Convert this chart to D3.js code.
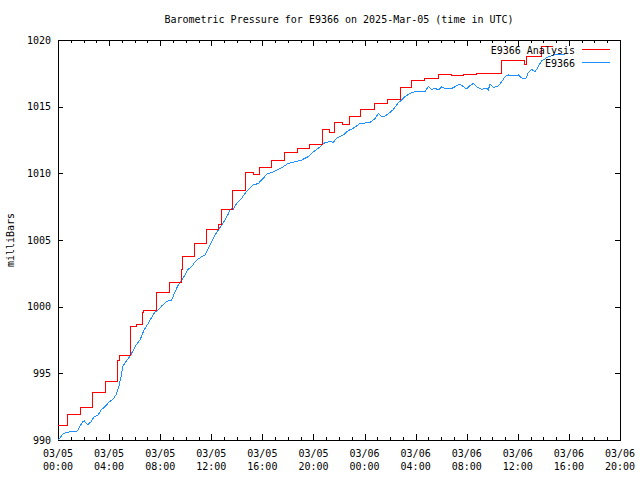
<!DOCTYPE html>
<html>
<head>
<meta charset="utf-8">
<script src="https://cdn.jsdelivr.net/npm/d3@7/dist/d3.min.js"></script>
<style>
  html, body { margin: 0; padding: 0; background: #fff; }
  svg { display: block; }
  text { font-family: "DejaVu Sans Mono", "Liberation Mono", monospace; font-size: 10px; fill: #000; }
</style>
</head>
<body>
<svg id="chart" width="640" height="480"></svg>
<script>
// ---- data (hours since 2025-03-05 00:00 UTC, pressure in milliBars) ----
const titleText = "Barometric Pressure for E9366 on 2025-Mar-05 (time in UTC)";
const yLabel = "milliBars";
const seriesNames = ["E9366 Analysis", "E9366"];
const yTicks = [990, 995, 1000, 1005, 1010, 1015, 1020];
const xMajorHours = [0, 4, 8, 12, 16, 20, 24, 28, 32, 36, 40, 44];

// Analysis (step series): start hour of each level, level value, last point = end
const redHours = [0, 0.705, 1.746, 2.662, 3.719, 4.697, 4.854, 5.660, 6.161, 6.600, 6.733,
  7.696, 8.706, 9.669, 9.786, 10.671, 11.642, 12.566, 12.816, 13.646, 14.695, 15.345,
  15.737, 16.731, 17.694, 18.727, 19.729, 20.669, 21.256, 21.648, 22.290, 22.783, 23.722,
  24.764, 25.758, 26.815, 27.715, 28.733, 29.751, 30.769, 31.747, 32.726, 34.722, 36.562,
  36.718, 37.893, 38.731];
const redValues = [991.10, 991.93, 992.45, 993.53, 994.39, 995.95, 996.35, 998.50, 998.66, 999.60, 999.75,
  1001.08, 1001.83, 1002.80, 1003.78, 1004.75, 1005.80, 1006.20, 1007.29, 1008.71, 1010.03, 1009.88,
  1010.44, 1010.98, 1011.58, 1011.86, 1012.14, 1013.30, 1013.10, 1013.83, 1013.63, 1014.29, 1014.80,
  1015.22, 1015.55, 1016.45, 1016.93, 1017.15, 1017.45, 1017.34, 1017.43, 1017.50, 1018.48, 1018.13,
  1018.80, 1019.55, 1019.55];

// Observations
const blueHours = [0.000, 0.157, 0.313, 0.493, 0.705, 1.151, 1.542, 1.683, 1.934, 2.059, 2.325, 2.584,
  2.842, 3.132, 3.367, 3.625, 3.797, 4.016, 4.283, 4.541, 4.674, 4.799, 4.932, 5.066, 5.191, 5.457,
  5.715, 5.974, 6.107, 6.420, 6.733, 7.070, 7.336, 7.594, 7.853, 8.119, 8.377, 8.636, 8.902, 9.160,
  9.418, 9.685, 9.943, 10.201, 10.468, 10.726, 10.984, 11.251, 11.509, 11.767, 12.034, 12.292, 12.550,
  12.816, 13.075, 13.333, 13.466, 13.599, 13.725, 13.991, 14.383, 14.641, 15.032, 15.291, 15.682,
  16.073, 16.340, 16.731, 17.123, 17.639, 18.031, 18.555, 19.080, 19.597, 19.988, 20.380, 20.669,
  20.904, 21.296, 21.554, 21.820, 22.337, 22.728, 23.120, 23.644, 23.903, 24.114, 24.427, 24.819,
  25.077, 25.343, 25.602, 25.993, 26.251, 26.643, 26.909, 27.168, 27.559, 27.950, 28.342, 28.733,
  28.992, 29.258, 29.517, 29.775, 30.041, 30.433, 30.824, 31.083, 31.474, 31.733, 31.999, 32.257,
  32.516, 32.782, 33.173, 33.565, 33.690, 33.823, 34.081, 34.473, 34.739, 34.997, 35.255, 35.521,
  35.780, 36.038, 36.304, 36.641, 36.797, 37.087, 37.345, 37.603, 37.870, 38.050, 38.285, 38.778,
  39.303, 39.694];
const blueValues = [990.00, 990.13, 990.38, 990.50, 990.58, 990.64, 990.68, 990.98, 991.37, 991.43, 991.13, 991.37,
  991.75, 991.85, 992.25, 992.45, 992.63, 992.87, 993.04, 993.38, 993.75, 994.13, 994.75, 995.50, 995.70, 996.05,
  996.41, 996.88, 997.13, 997.50, 998.25, 998.75, 999.19, 999.60, 999.75, 1000.05, 1000.28, 1000.45, 1000.50, 1001.12,
  1001.63, 1002.00, 1002.38, 1002.83, 1003.00, 1003.37, 1003.58, 1003.75, 1003.88, 1004.38, 1004.87, 1005.38, 1005.75,
  1006.13, 1006.50, 1006.95, 1007.25, 1007.36, 1007.29, 1007.75, 1008.13, 1008.50, 1008.88, 1009.13, 1009.24,
  1009.63, 1009.95, 1010.05, 1010.25, 1010.50, 1010.75, 1010.87, 1011.00, 1011.26, 1011.62, 1011.88, 1012.13,
  1012.30, 1012.39, 1012.33, 1012.63, 1012.88, 1013.21, 1013.38, 1013.74, 1013.70, 1013.81, 1013.81, 1014.11,
  1014.49, 1014.26, 1014.30, 1014.56, 1014.79, 1015.30, 1015.50, 1015.75, 1016.00, 1016.12, 1016.12, 1016.14,
  1016.51, 1016.30, 1016.38, 1016.25, 1016.48, 1016.33, 1016.36, 1016.50, 1016.70, 1016.50, 1016.33, 1016.59,
  1016.74, 1016.50, 1016.29, 1016.40, 1016.25, 1016.70, 1016.44, 1016.55, 1016.87, 1017.25, 1017.38, 1017.30,
  1017.34, 1017.38, 1017.15, 1017.13, 1017.50, 1017.79, 1017.60, 1018.00, 1018.46, 1018.54, 1018.69, 1018.88,
  1018.95, 1018.95];

// ---- chart ----
const start = Date.UTC(2025, 2, 5, 0, 0, 0);
const toDate = h => new Date(start + h * 3600e3);
const L = 58, R = 620, T = 40, B = 440;
const svg = d3.select("#chart");

const x = d3.scaleUtc().domain([toDate(0), toDate(44)]).range([L, R]);
const y = d3.scaleLinear().domain([990, 1020]).range([B, T]);

const majors = xMajorHours.map(toDate);
const minors = d3.range(0, 45).filter(h => h % 4 !== 0).map(toDate);

function styleAxis(g) {
  g.select(".domain").remove();
  g.selectAll("line").attr("stroke", "#000").attr("shape-rendering", "crispEdges");
  g.attr("font-family", null).attr("font-size", null);
}

// bottom major + minor ticks
svg.append("g").attr("transform", `translate(0,${B})`)
  .call(d3.axisBottom(x).tickValues(majors).tickSize(-6).tickFormat(""))
  .call(styleAxis);
svg.append("g").attr("transform", `translate(0,${B})`)
  .call(d3.axisBottom(x).tickValues(minors).tickSize(-3).tickFormat(""))
  .call(styleAxis);
// top mirrored
svg.append("g").attr("transform", `translate(0,${T})`)
  .call(d3.axisTop(x).tickValues(majors).tickSize(-6).tickFormat(""))
  .call(styleAxis);
svg.append("g").attr("transform", `translate(0,${T})`)
  .call(d3.axisTop(x).tickValues(minors).tickSize(-3).tickFormat(""))
  .call(styleAxis);
// left / right
svg.append("g").attr("transform", `translate(${L},0)`)
  .call(d3.axisLeft(y).tickValues(yTicks).tickSize(-5).tickPadding(7).tickFormat(d3.format("d")))
  .call(styleAxis)
  .selectAll("text").attr("fill", "#000");
svg.append("g").attr("transform", `translate(${R},0)`)
  .call(d3.axisRight(y).tickValues(yTicks).tickSize(-5).tickFormat(""))
  .call(styleAxis);

// x labels (two lines)
const fmtD = d3.utcFormat("%m/%d"), fmtT = d3.utcFormat("%H:%M");
const xl = svg.append("g").selectAll("text").data(majors).join("text")
  .attr("text-anchor", "middle")
  .attr("x", d => x(d));
xl.append("tspan").attr("x", d => x(d)).attr("y", 457).text(d => fmtD(d));
xl.append("tspan").attr("x", d => x(d)).attr("y", 470).text(d => fmtT(d));

// frame
svg.append("rect").attr("x", L + 0.5).attr("y", T + 0.5)
  .attr("width", R - L).attr("height", B - T)
  .attr("fill", "none").attr("stroke", "#000").attr("shape-rendering", "crispEdges");

// series
const red = redHours.map((h, i) => [toDate(h), redValues[i]]);
const blue = blueHours.map((h, i) => [toDate(h), blueValues[i]]);

svg.append("path").datum(blue)
  .attr("d", d3.line().x(d => x(d[0])).y(d => y(d[1])))
  .attr("fill", "none").attr("stroke", "#1e90ff").attr("stroke-width", 1)
  .attr("shape-rendering", "crispEdges");
svg.append("path").datum(red)
  .attr("d", d3.line().curve(d3.curveStepAfter).x(d => x(d[0])).y(d => y(d[1])))
  .attr("fill", "none").attr("stroke", "#ff0000").attr("stroke-width", 1)
  .attr("shape-rendering", "crispEdges");

// legend
const legColors = ["#ff0000", "#1e90ff"];
const legY = [49.5, 62.5];
seriesNames.forEach((name, i) => {
  svg.append("text").attr("x", 575).attr("y", legY[i] + 4).attr("text-anchor", "end").text(name);
  svg.append("line").attr("x1", 582).attr("x2", 610).attr("y1", legY[i]).attr("y2", legY[i])
    .attr("stroke", legColors[i]).attr("shape-rendering", "crispEdges");
});

// title and y label
svg.append("text").attr("x", (L + R) / 2).attr("y", 23).attr("text-anchor", "middle").text(titleText);
svg.append("text").attr("transform", "translate(14,240) rotate(-90)").attr("text-anchor", "middle").text(yLabel);
</script>
</body>
</html>
